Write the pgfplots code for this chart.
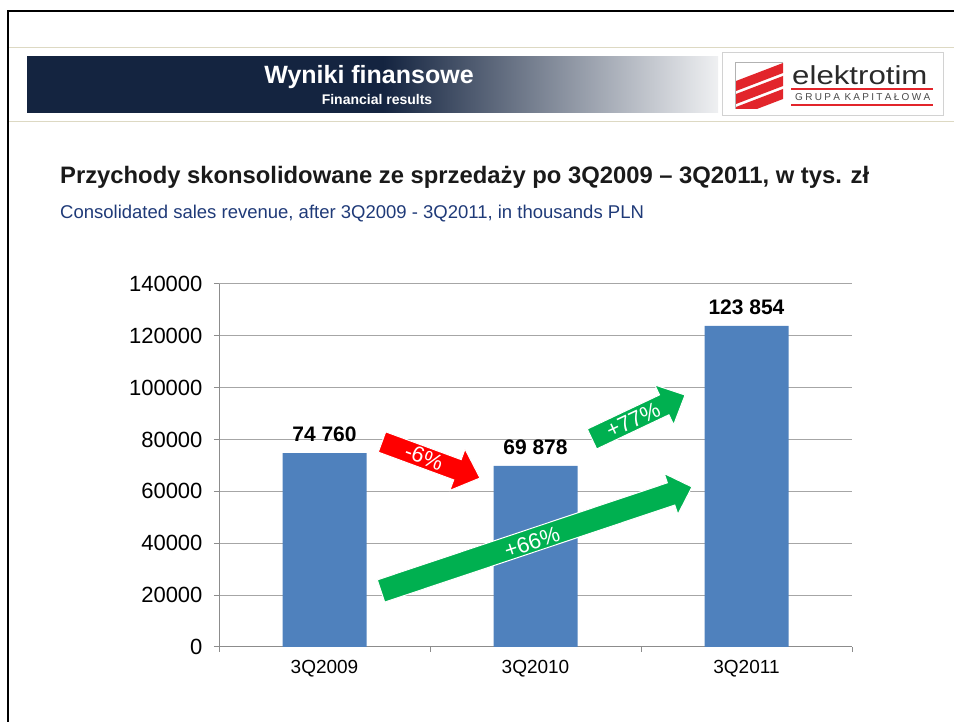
\documentclass[border=0pt]{standalone}
\usepackage{fontspec}
\setmainfont{Liberation Sans}
\usepackage{pgfplots}
\pgfplotsset{compat=1.18}
\definecolor{navy}{HTML}{142440}
\definecolor{bandlight}{HTML}{EFF0F2}
\definecolor{beige}{HTML}{DDD9C3}
\definecolor{barblue}{HTML}{4F81BD}
\definecolor{gridgray}{HTML}{A6A6A6}
\definecolor{axisgray}{HTML}{8C8C8C}
\definecolor{arrgreen}{HTML}{00B050}
\definecolor{arrred}{HTML}{FF0000}
\definecolor{logored}{HTML}{E2252B}
\definecolor{logotext}{HTML}{2A2A2A}
\definecolor{subblue}{HTML}{1F3A78}
\definecolor{titleblack}{HTML}{1A1A1A}
\newcommand{\fs}[1]{\fontsize{#1}{#1}\selectfont}
% x y angle L w h hl color
\newcommand{\bigarrow}[8]{%
  \fill[#8, draw=white, line width=1pt, shift={(#1,#2)}, rotate=#3]
    (0,-#5) -- (#4-#7,-#5) -- (#4-#7,-#6) -- (#4,0) -- (#4-#7,#6) -- (#4-#7,#5) -- (0,#5) -- cycle;}

\begin{document}
\begin{tikzpicture}[x=1pt,y=1pt]
\path[use as bounding box] (0,0) rectangle (954,722);
% frame
\draw[line width=2pt] (8,0) -- (8,711) -- (954,711);
\draw[beige, line width=1pt] (9,674.5) -- (954,674.5);
\draw[beige, line width=1pt] (9,600) -- (954,600);
% header band
\begin{scope}
\clip (27,609) rectangle (718,665);
\shade[left color=navy, right color=bandlight] (383,600) rectangle (718,674);
\fill[navy] (20,600) rectangle (384,674);
\end{scope}
\node[text=white, font=\bfseries\fs{25}, anchor=base, inner sep=0] at (369,638) {Wyniki finansowe};
\node[text=white, font=\bfseries\fs{14}, anchor=base, inner sep=0] at (377,617) {Financial results};
% logo
\draw[gray!35, fill=white] (722,607) rectangle (943,670);
\begin{scope}
\clip (736,613) rectangle (783,660);
\foreach \k in {0,1,2} {
  \fill[logored] (736,{722-(91+13*\k)}) -- (736,{722-(81+13*\k)}) -- (783,{722-(63+13*\k)}) -- (783,{722-(73+13*\k)}) -- cycle;
}
\end{scope}
\draw[gray!60, line width=0.8pt] (735,613) -- (735,660) -- (783,660);
\node[text=logotext, font=\fs{26}, anchor=base west, inner sep=0, xscale=1.2] at (792,637) {elektrotim};
\draw[logored, line width=2pt] (791,633) -- (933,633);
\draw[logored, line width=2pt] (791,617) -- (933,617);
\node[text=logotext!85, font=\fs{10}, anchor=base west, inner sep=0] at (795,621)
  {\makebox[135pt][s]{G\hfill R\hfill U\hfill P\hfill A\hfill\hfill K\hfill A\hfill P\hfill I\hfill T\hfill A\hfill Ł\hfill O\hfill W\hfill A}};
% titles
\node[text=titleblack, font=\bfseries\fs{23.8}, anchor=base west, inner sep=0] at (60,538)
  {Przychody skonsolidowane ze sprzedaży po 3Q2009 – 3Q2011, w tys. zł};
\node[text=subblue, font=\fs{18.5}, anchor=base west, inner sep=0] at (60,503)
  {Consolidated sales revenue, after 3Q2009 - 3Q2011, in thousands PLN};
% chart
\begin{axis}[
  at={(219pt,75pt)}, anchor=south west,
  scale only axis, width=633pt, height=363pt,
  xmin=-0.5, xmax=2.5, ymin=0, ymax=140000,
  ytick={0,20000,...,140000},
  scaled y ticks=false,
  /pgf/number format/assume math mode=true,
  /pgf/number format/fixed,
  /pgf/number format/1000 sep={},
  ymajorgrids,
  grid style={gridgray, line width=1pt},
  axis x line*=bottom, axis y line*=left,
  axis line style={axisgray, line width=1pt},
  xtick={0,1,2},
  xticklabels={3Q2009,3Q2010,3Q2011},
  minor xtick={-0.5,0.5,1.5,2.5},
  major x tick style={draw=none},
  tick align=outside,
  major tick length=5pt, minor tick length=5pt,
  tick style={axisgray, line width=1pt},
  yticklabel style={font=\fs{22}, text=black, xshift=-8pt},
  xticklabel style={font=\fs{19}, text=black, yshift=-5pt},
]
\addplot[ybar, bar width=84pt, fill=barblue, draw=none,
  nodes near coords, point meta=explicit symbolic,
  nodes near coords style={font=\bfseries\fs{21}, text=black, anchor=south, inner sep=0, yshift=11pt}]
  coordinates {(0,74760)[74 760] (1,69878)[69 878] (2,123854)[123 854]};
\end{axis}
% arrows
\bigarrow{382}{280}{-20.2}{104.4}{10.8}{22}{24}{arrred}
\node[text=white, font=\fs{22}, rotate=-20.2] at (424,265) {-6\%};
\bigarrow{592}{283}{25.3}{102.9}{11}{22}{23}{arrgreen}
\node[text=white, font=\fs{22}, rotate=25.3] at (633,302) {+77\%};
\bigarrow{381}{131}{18.5}{327.9}{11.7}{21.5}{22}{arrgreen}
\node[text=white, font=\fs{22}, rotate=18.5] at (532,180) {+66\%};
\end{tikzpicture}
\end{document}
